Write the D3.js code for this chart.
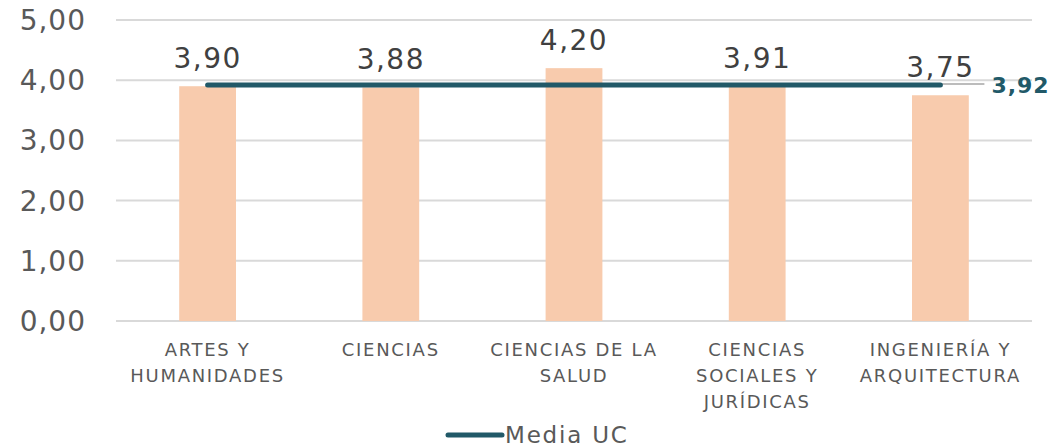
<!DOCTYPE html>
<html>
<head>
<meta charset="utf-8">
<script src="https://cdn.jsdelivr.net/npm/d3@7"></script>
<style>
  html,body{margin:0;padding:0;background:#fff;}
  svg{display:block;font-family:"DejaVu Sans",Verdana,sans-serif;}
  .grid line{stroke:#d9d9d9;stroke-width:2;}
  .ytick{fill:#595959;font-size:28px;letter-spacing:1px;}
  .xlab{fill:#595959;font-size:18px;letter-spacing:1.7px;}
  .vlab{fill:#404040;font-size:28px;letter-spacing:1.5px;}
  .mlab{fill:#215968;font-size:22px;font-weight:bold;letter-spacing:1px;}
  .leg{fill:#595959;font-size:23px;letter-spacing:1.8px;}
</style>
</head>
<body>
<div id="chart"></div>
<script>
var categories=["ARTES Y HUMANIDADES","CIENCIAS","CIENCIAS DE LA SALUD","CIENCIAS SOCIALES Y JURÍDICAS","INGENIERÍA Y ARQUITECTURA"];
var values=[3.90,3.88,4.20,3.91,3.75];
var mediaUC=3.92;
var yTicks=[0,1,2,3,4,5];

var W=1056,H=448;
var m={top:20,right:24,bottom:127,left:116};
var svg=d3.select("#chart").append("svg").attr("width",W).attr("height",H);

var x=d3.scaleBand().domain(categories).range([m.left,W-m.right]).paddingInner(0.69).paddingOuter(0.345);
var y=d3.scaleLinear().domain([0,5]).range([H-m.bottom,m.top]);
var fmt=function(v){return d3.format(".2f")(v).replace(".",",");};

// gridlines
svg.append("g").attr("class","grid").selectAll("line").data(yTicks).enter().append("line")
    .attr("x1",m.left).attr("x2",W-m.right)
    .attr("y1",function(d){return y(d);}).attr("y2",function(d){return y(d);});

// y tick labels
svg.append("g").selectAll("text").data(yTicks).enter().append("text").attr("class","ytick")
    .attr("x",86).attr("y",function(d){return y(d);}).attr("dy","0.36em").attr("text-anchor","end")
    .text(fmt);

// bars
svg.append("g").selectAll("rect").data(values).enter().append("rect")
    .attr("x",function(d,i){return x(categories[i]);}).attr("width",x.bandwidth())
    .attr("y",function(d){return y(d);}).attr("height",function(d){return y(0)-y(d);})
    .attr("fill","#f8cbad");

// value labels
svg.append("g").selectAll("text").data(values).enter().append("text").attr("class","vlab")
    .attr("x",function(d,i){return x(categories[i])+x.bandwidth()/2;})
    .attr("y",function(d){return y(d)-18;}).attr("text-anchor","middle")
    .text(fmt);

// media line
var first=x(categories[0])+x.bandwidth()/2, last=x(categories[categories.length-1])+x.bandwidth()/2;
svg.append("line").attr("x1",last).attr("x2",last+44).attr("y1",y(mediaUC)-1).attr("y2",y(mediaUC)-1)
    .attr("stroke","#a6a6a6").attr("stroke-width",1.5);
svg.append("line").attr("x1",first).attr("x2",last).attr("y1",y(mediaUC)).attr("y2",y(mediaUC))
    .attr("stroke","#215968").attr("stroke-width",5).attr("stroke-linecap","round");
svg.append("text").attr("class","mlab").attr("x",last+51).attr("y",y(mediaUC)).attr("dy","0.36em")
    .text(fmt(mediaUC));

// category labels, wrapped to band step
var step=x.step();
svg.append("g").selectAll("text").data(categories).enter().append("text").attr("class","xlab")
    .attr("text-anchor","middle")
    .each(function(d){
        var t=d3.select(this), cx=x(d)+x.bandwidth()/2, words=d.split(" "), lines=[], cur=[];
        var probe=t.append("tspan");
        words.forEach(function(w){
            var trial=cur.concat([w]).join(" ");
            probe.text(trial);
            if(cur.length&&probe.node().getComputedTextLength()>step){lines.push(cur.join(" "));cur=[w];}
            else cur.push(w);
        });
        lines.push(cur.join(" "));
        probe.remove();
        lines.forEach(function(l,i){
            t.append("tspan").attr("x",cx).attr("y",356+i*26).text(l);
        });
    });

// legend
svg.append("line").attr("x1",448).attr("x2",502).attr("y1",435).attr("y2",435)
    .attr("stroke","#215968").attr("stroke-width",5).attr("stroke-linecap","round");
svg.append("text").attr("class","leg").attr("x",505).attr("y",435).attr("dy","0.36em").text("Media UC");
</script>
</body>
</html>
